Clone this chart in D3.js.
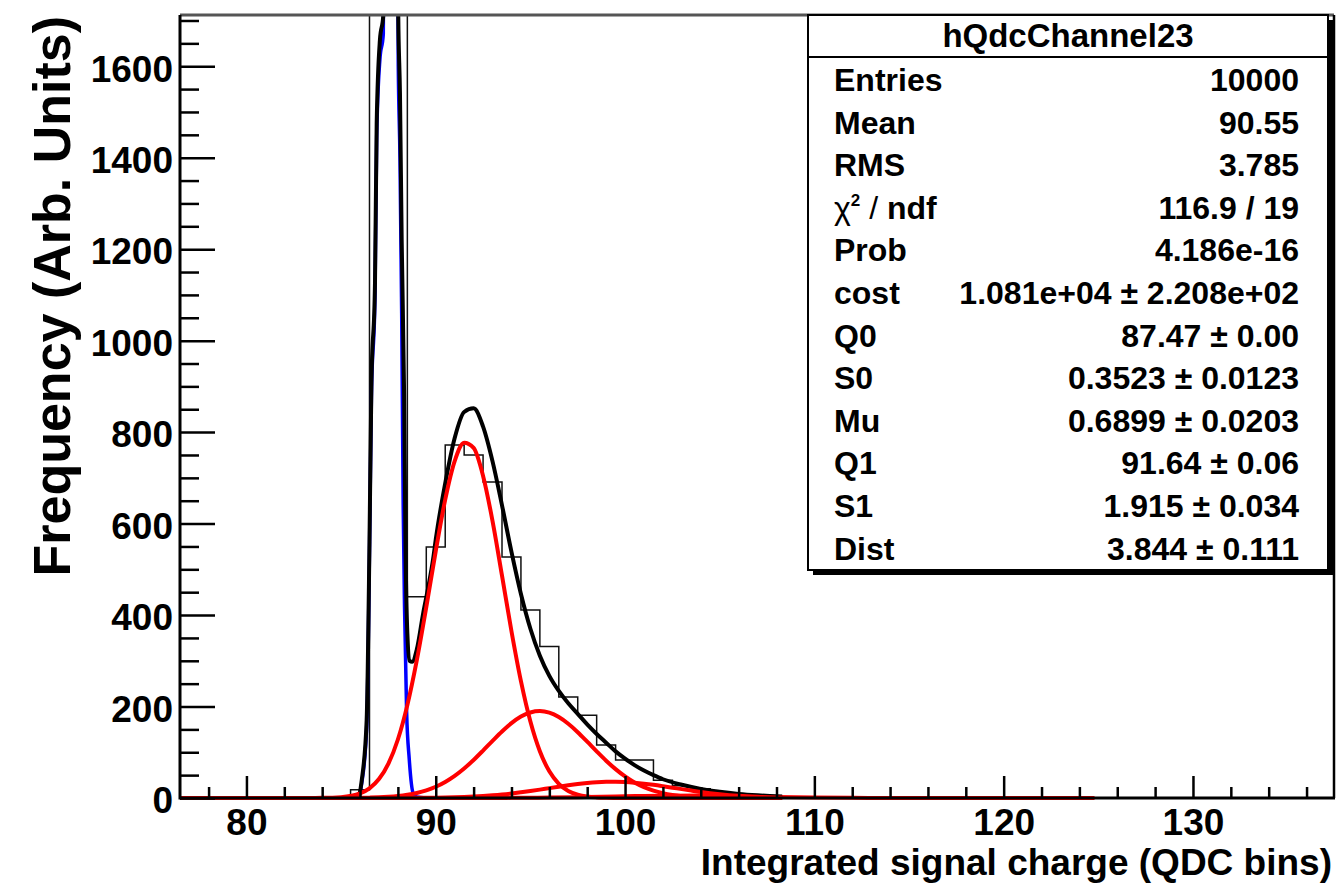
<!DOCTYPE html>
<html>
<head>
<meta charset="utf-8">
<script src="https://cdn.jsdelivr.net/npm/d3@7"></script>
<style>
  body { margin: 0; background: #fff; }
  text { font-family: "Liberation Sans", Arial, Helvetica, sans-serif; font-weight: bold; fill: #000; }
</style>
</head>
<body>
<svg id="chart" width="1338" height="888"></svg>
<script>
// histogram bins (width 1, centred on integers), everything else is empty
const binCenters = [85, 86, 87, 88, 89, 90, 91, 92, 93, 94, 95, 96, 97, 98, 99, 100, 101, 102, 103, 104, 105, 106, 107, 108, 109, 110];
const binCounts  = [1, 18, 2540, 2180, 440, 549, 772, 750, 691, 527, 411, 331, 221, 181, 116, 83, 83, 39, 27, 20, 13, 8, 5, 3, 1, 1];

// total fit (black)
const fitX = [85.2, 85.91, 86.09, 86.35, 86.5, 86.6, 86.79, 86.88, 87.05, 87.23, 87.4, 87.6, 87.8, 88.02, 88.11, 88.2, 88.33, 88.4, 88.5, 88.62, 88.75, 89.0, 89.34, 89.6, 89.87, 90, 90.5, 91, 91.5, 92, 92.5, 93, 93.5, 94, 94.5, 95, 95.5, 96, 96.5, 97, 97.5, 98, 98.5, 99, 99.5, 100, 100.5, 101, 101.5, 102, 103, 104, 105, 106, 107, 108, 108.3];
const fitY = [2, 3, 39, 170, 560, 900, 1125, 1475, 1657, 1712, 3500, 6100, 3500, 1712, 1540, 1220, 880, 560, 360, 300, 298, 325, 405, 460, 525, 565, 688, 787, 844, 852, 812, 736, 640, 538, 446, 370, 311, 267, 234, 207, 184, 161, 140, 121, 102, 86, 72, 60, 50, 41, 29, 20, 13.5, 8.9, 5.8, 3.6, 3.2];

// pedestal component (blue)
const pedX = [85.2, 85.91, 86.09, 86.35, 86.5, 86.6, 86.79, 86.88, 87.05, 87.23, 87.4, 87.6, 87.8, 88.02, 88.11, 88.2, 88.28, 88.35, 88.46, 88.6, 88.81, 89.0, 89.5];
const pedY = [0, 1, 32, 153, 540, 875, 1095, 1445, 1615, 1670, 3450, 6050, 3400, 1600, 1400, 1060, 640, 420, 190, 85, 10, 2, 0];

// photo-electron components (red)
const peX = [76.5, 83, 84, 85, 86, 86.5, 87, 87.5, 88, 88.5, 89, 89.5, 90, 90.5, 91, 91.5, 92, 92.5, 93, 93.5, 94, 94.5, 95, 95.5, 96, 96.5, 97, 97.5, 98, 98.5, 99, 99.5, 100, 100.5, 101, 101.5, 102, 102.5, 103, 103.5, 104, 105, 106, 107, 108, 108.3];
const pe1Y = [0, 0.05, 0.3, 1.9, 10.2, 21.2, 41.4, 75.3, 127.9, 203.1, 301.2, 417.2, 539.8, 652.5, 736.7, 776.9, 765.4, 704.3, 605.4, 486.1, 364.6, 255.4, 167.1, 102.1, 58.3, 31.1, 15.5, 7.2, 3.1, 1.3, 0.5, 0.2, 0.06, 0, 0, 0, 0, 0, 0, 0, 0, 0, 0, 0, 0, 0];
const pe2Y = [0, 0.02, 0.05, 0.2, 0.42, 0.8, 1.4, 2.5, 4.2, 6.9, 10.9, 16.6, 24.5, 35.0, 48.4, 64.5, 83.2, 103.7, 124.9, 145.4, 163.6, 178.0, 187.0, 190.0, 186.5, 177.0, 162.3, 143.9, 123.2, 102.0, 81.6, 63.2, 47.2, 34.1, 23.8, 16.1, 10.5, 6.6, 4.0, 2.4, 1.35, 0.4, 0.1, 0, 0, 0];
const pe3Y = [0, 0, 0, 0.01, 0.01, 0.03, 0.05, 0.07, 0.1, 0.17, 0.28, 0.44, 0.68, 1.03, 1.5, 2.2, 3.1, 4.3, 5.8, 7.6, 9.8, 12.4, 15.2, 18.3, 21.6, 24.8, 27.9, 30.7, 32.9, 34.6, 35.5, 35.7, 35.0, 33.5, 31.4, 28.8, 25.8, 22.6, 19.4, 16.2, 13.2, 8.3, 4.7, 2.5, 1.2, 1.0];
const pe4X = [76.5, 90, 92, 94, 96, 98, 100, 102, 104, 106, 108, 110, 112, 114, 116, 118, 124.8];
const pe4Y = [0, 0.01, 0.07, 0.3, 0.9, 2.1, 3.7, 5.0, 5.2, 4.1, 2.4, 1.1, 0.4, 0.1, 0.03, 0, 0];

const xMajor = [80, 90, 100, 110, 120, 130];
const xMinor = [78, 82, 84, 86, 88, 92, 94, 96, 98, 102, 104, 106, 108, 112, 114, 116, 118, 122, 124, 126, 128, 132, 134, 136];
const yMajor = [0, 200, 400, 600, 800, 1000, 1200, 1400, 1600];
const yMinor = [50, 100, 150, 250, 300, 350, 450, 500, 550, 650, 700, 750, 850, 900, 950, 1050, 1100, 1150, 1250, 1300, 1350, 1450, 1500, 1550, 1650, 1700];

const statTitle = 'hQdcChannel23';
const statLabels = ['Entries', 'Mean', 'RMS', 'chi', 'Prob', 'cost', 'Q0', 'S0', 'Mu', 'Q1', 'S1', 'Dist'];
const statValues = ['10000', '90.55', '3.785', '116.9 / 19', '4.186e-16', '1.081e+04 ± 2.208e+02', '87.47 ± 0.00',
  '0.3523 ± 0.0123', '0.6899 ± 0.0203', '91.64 ± 0.06', '1.915 ± 0.034', '3.844 ± 0.111'];

const svg = d3.select('#chart');
const L = 180, R = 1334, T = 15, B = 798;

const x = d3.scaleLinear().domain([76.49, 137.45]).range([L, R]);
const y = d3.scaleLinear().domain([0, 1712]).range([B, T]);

svg.append('defs').append('clipPath').attr('id', 'plot')
  .append('rect').attr('x', L).attr('y', T).attr('width', R - L).attr('height', B - T + 4);

// histogram outline
const histPts = [[x.domain()[0], 0], [binCenters[0] - 0.5, 0]];
binCenters.forEach((c, i) => {
  histPts.push([c - 0.5, binCounts[i]]);
  histPts.push([c + 0.5, binCounts[i]]);
});
histPts.push([binCenters[binCenters.length - 1] + 0.5, 0]);
histPts.push([x.domain()[1], 0]);

const stepLine = d3.line().x(d => x(d[0])).y(d => y(d[1]));
const smooth = d3.line().x(d => x(d[0])).y(d => y(d[1])).curve(d3.curveMonotoneX);

const plot = svg.append('g').attr('clip-path', 'url(#plot)');

plot.append('path').attr('d', stepLine(histPts))
  .attr('fill', 'none').attr('stroke', '#111').attr('stroke-width', 1.5);

// 4 p.e. term sits under the axis line
plot.append('path').attr('d', smooth(d3.zip(pe4X, pe4Y)))
  .attr('fill', 'none').attr('stroke', '#ff0000').attr('stroke-width', 4);

// axes
svg.append('g').attr('transform', `translate(0,${B})`)
  .call(d3.axisBottom(x).tickValues(xMajor).tickSize(-22).tickPadding(11).tickFormat(d3.format('d')));
svg.append('g').attr('transform', `translate(0,${B})`)
  .call(d3.axisBottom(x).tickValues(xMinor).tickSize(-11).tickFormat(''));
const yAxis = svg.append('g').attr('transform', `translate(${L},0)`)
  .call(d3.axisLeft(y).tickValues(yMajor).tickSize(-35).tickPadding(7).tickFormat(d3.format('d')));
svg.append('g').attr('transform', `translate(${L},0)`)
  .call(d3.axisLeft(y).tickValues(yMinor).tickSize(-19).tickFormat(''));

svg.selectAll('.domain').remove();
svg.selectAll('.tick line').attr('stroke', '#000').attr('stroke-width', 2.5);
svg.selectAll('.tick text').attr('font-size', 37)
  .attr('font-family', '"Liberation Sans", Arial, sans-serif');
yAxis.selectAll('.tick text').attr('dy', '0.4em');

// frame
svg.append('line').attr('x1', L).attr('x2', R).attr('y1', T).attr('y2', T).attr('stroke', '#555').attr('stroke-width', 3);
svg.append('line').attr('x1', R).attr('x2', R).attr('y1', T).attr('y2', B).attr('stroke', '#000').attr('stroke-width', 2.5);
svg.append('line').attr('x1', L).attr('x2', L).attr('y1', T).attr('y2', B + 1.5).attr('stroke', '#000').attr('stroke-width', 3);
svg.append('line').attr('x1', L).attr('x2', R + 1).attr('y1', B).attr('y2', B).attr('stroke', '#000').attr('stroke-width', 3);

// fit curves
plot.append('path').attr('d', smooth(d3.zip(pedX, pedY)))
  .attr('fill', 'none').attr('stroke', '#0000ff').attr('stroke-width', 3.5);
plot.append('path').attr('d', smooth(d3.zip(fitX, fitY)))
  .attr('fill', 'none').attr('stroke', '#000').attr('stroke-width', 4).attr('stroke-linejoin', 'round');
[pe1Y, pe2Y, pe3Y].forEach(vals => {
  plot.append('path').attr('d', smooth(d3.zip(peX, vals)))
    .attr('fill', 'none').attr('stroke', '#ff0000').attr('stroke-width', 4);
});

// axis titles
svg.append('text').attr('x', 1332).attr('y', 875).attr('text-anchor', 'end')
  .attr('font-size', 37).text('Integrated signal charge (QDC bins)');
svg.append('text').attr('transform', 'translate(70,16) rotate(-90)').attr('text-anchor', 'end')
  .attr('font-size', 52).text('Frequency (Arb. Units)');

// stats box
const bx0 = 808, bx1 = 1328, by0 = 15, by1 = 570;
svg.append('rect').attr('x', bx0 + 5).attr('y', by0 + 5).attr('width', bx1 - bx0).attr('height', by1 - by0).attr('fill', '#000');
svg.append('rect').attr('x', bx0).attr('y', by0).attr('width', bx1 - bx0).attr('height', by1 - by0)
  .attr('fill', '#fff').attr('stroke', '#000').attr('stroke-width', 2);
svg.append('line').attr('x1', bx0).attr('x2', bx1).attr('y1', 57).attr('y2', 57).attr('stroke', '#000').attr('stroke-width', 2);
svg.append('text').attr('x', (bx0 + bx1) / 2).attr('y', 47).attr('text-anchor', 'middle')
  .attr('font-size', 33).text(statTitle);

const rows = svg.append('g').selectAll('g').data(d3.zip(statLabels, statValues)).enter().append('g')
  .attr('transform', (d, i) => `translate(0,${91 + i * 42.6})`);
rows.append('text').attr('x', 834).attr('font-size', 32).each(function (d) {
  const t = d3.select(this);
  if (d[0] === 'chi') {
    t.append('tspan').attr('font-weight', 'normal').text('χ');
    t.append('tspan').attr('font-size', 17).attr('dy', -13).text('2');
    t.append('tspan').attr('dy', 13).attr('font-weight', 'normal').text(' / ');
    t.append('tspan').text('ndf');
  } else {
    t.text(d[0]);
  }
});
rows.append('text').attr('x', 1299).attr('text-anchor', 'end').attr('font-size', 32).text(d => d[1]);
</script>
</body>
</html>
